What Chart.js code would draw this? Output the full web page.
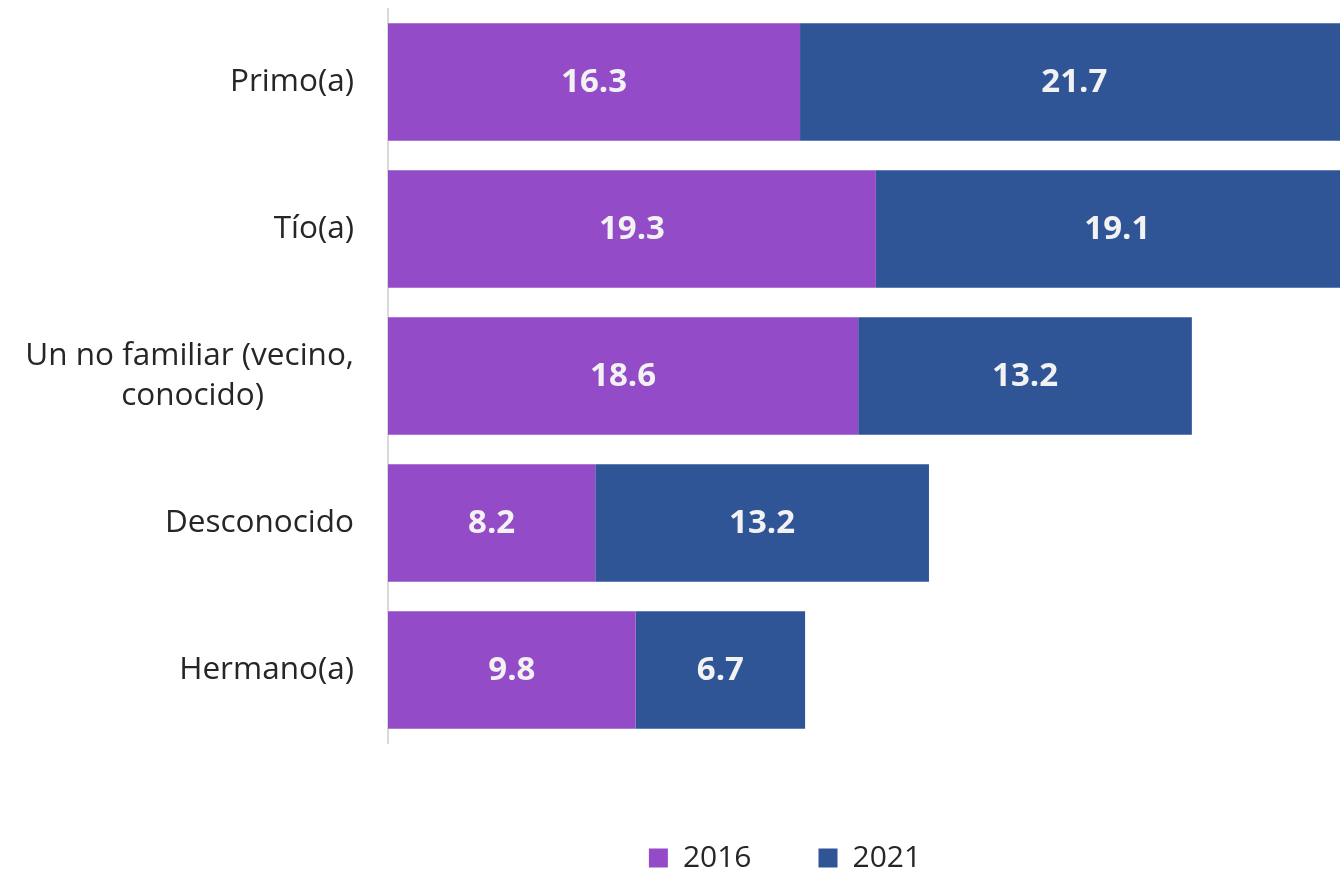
<!DOCTYPE html>
<html>
<head>
<meta charset="utf-8">
<script src="https://cdn.jsdelivr.net/npm/chart.js@4/dist/chart.umd.min.js"></script>
<style>
  html, body { margin: 0; padding: 0; background: #fff; }
  #wrap { width: 1340px; height: 871px; position: relative; }
</style>
</head>
<body>
<div id="wrap"><canvas id="chart"></canvas></div>
<script>
const CATEGORIES = ['Primo(a)', 'Tío(a)', ['Un no familiar (vecino,', 'conocido)'], 'Desconocido', 'Hermano(a)'];
const SERIES_NAMES = ['2016', '2021'];
const VALUES_2016 = [16.3, 19.3, 18.6, 8.2, 9.8];
const VALUES_2021 = [21.7, 19.1, 13.2, 13.2, 6.7];
const COLORS = ['#934bc8', '#2f5597'];
const X_MAX = 37.66;
const FONT = '"Open Sans", "Noto Sans", sans-serif';
const TICK_FONT_SIZE = 31.5;

// wrapped labels are centred line by line in the original: pad short lines with trailing spaces
const measureCtx = document.createElement('canvas').getContext('2d');
function centreLines(label) {
  if (!Array.isArray(label)) return label;
  measureCtx.font = TICK_FONT_SIZE + 'px ' + FONT;
  const widths = label.map((line) => measureCtx.measureText(line).width);
  const widest = Math.max(...widths);
  const space = measureCtx.measureText(' ').width;
  return label.map((line, i) => line + ' '.repeat(Math.round((widest - widths[i]) / 2 / space)));
}

// centred value labels inside each bar segment
const barLabels = {
  id: 'barLabels',
  afterDatasetsDraw(chart) {
    const { ctx } = chart;
    ctx.save();
    ctx.font = 'bold 33px ' + FONT;
    ctx.fillStyle = '#f2f2f2';
    ctx.textAlign = 'center';
    ctx.textBaseline = 'middle';
    chart.data.datasets.forEach((ds, i) => {
      chart.getDatasetMeta(i).data.forEach((bar, j) => {
        const x = (bar.x + bar.base) / 2;
        ctx.fillText(ds.data[j].toFixed(1), x, bar.y + 1);
      });
    });
    ctx.restore();
  },
};

// the original legend sits right of centre (plot runs past the picture edge)
const legendShift = {
  id: 'legendShift',
  afterLayout(chart) {
    if (chart.legend) chart.legend.left = 230;
  },
};

new Chart(document.getElementById('chart'), {
  type: 'bar',
  data: {
    labels: CATEGORIES,
    datasets: [
      { label: SERIES_NAMES[0], data: VALUES_2016, backgroundColor: COLORS[0] },
      { label: SERIES_NAMES[1], data: VALUES_2021, backgroundColor: COLORS[1] },
    ],
  },
  options: {
    indexAxis: 'y',
    responsive: true,
    maintainAspectRatio: false,
    animation: false,
    categoryPercentage: 0.8,
    barPercentage: 1.0,
    layout: { padding: { top: 8.5, right: 0, bottom: -12, left: 0 } },
    scales: {
      x: {
        stacked: true,
        min: 0,
        max: X_MAX,
        grid: { display: false },
        border: { display: false },
        ticks: { display: false },
        afterFit: (scale) => { scale.height = 32.5; },
      },
      y: {
        stacked: true,
        grid: { display: false, drawTicks: false },
        border: { display: true, color: '#d9d9d9', width: 2 },
        ticks: {
          color: '#262626',
          padding: 34,
          font: { family: FONT, size: TICK_FONT_SIZE, lineHeight: 1.27 },
          callback: (value, index) => centreLines(CATEGORIES[index]),
        },
        afterFit: (scale) => {
          scale.width = 388;
          scale.paddingTop = 0;
          scale.paddingBottom = 0;
        },
      },
    },
    plugins: {
      legend: {
        position: 'bottom',
        labels: {
          color: '#262626',
          boxWidth: 19,
          boxHeight: 19,
          padding: 67,
          font: { family: FONT, size: 30 },
        },
      },
      tooltip: { enabled: false },
    },
  },
  plugins: [barLabels, legendShift],
});
</script>
</body>
</html>
